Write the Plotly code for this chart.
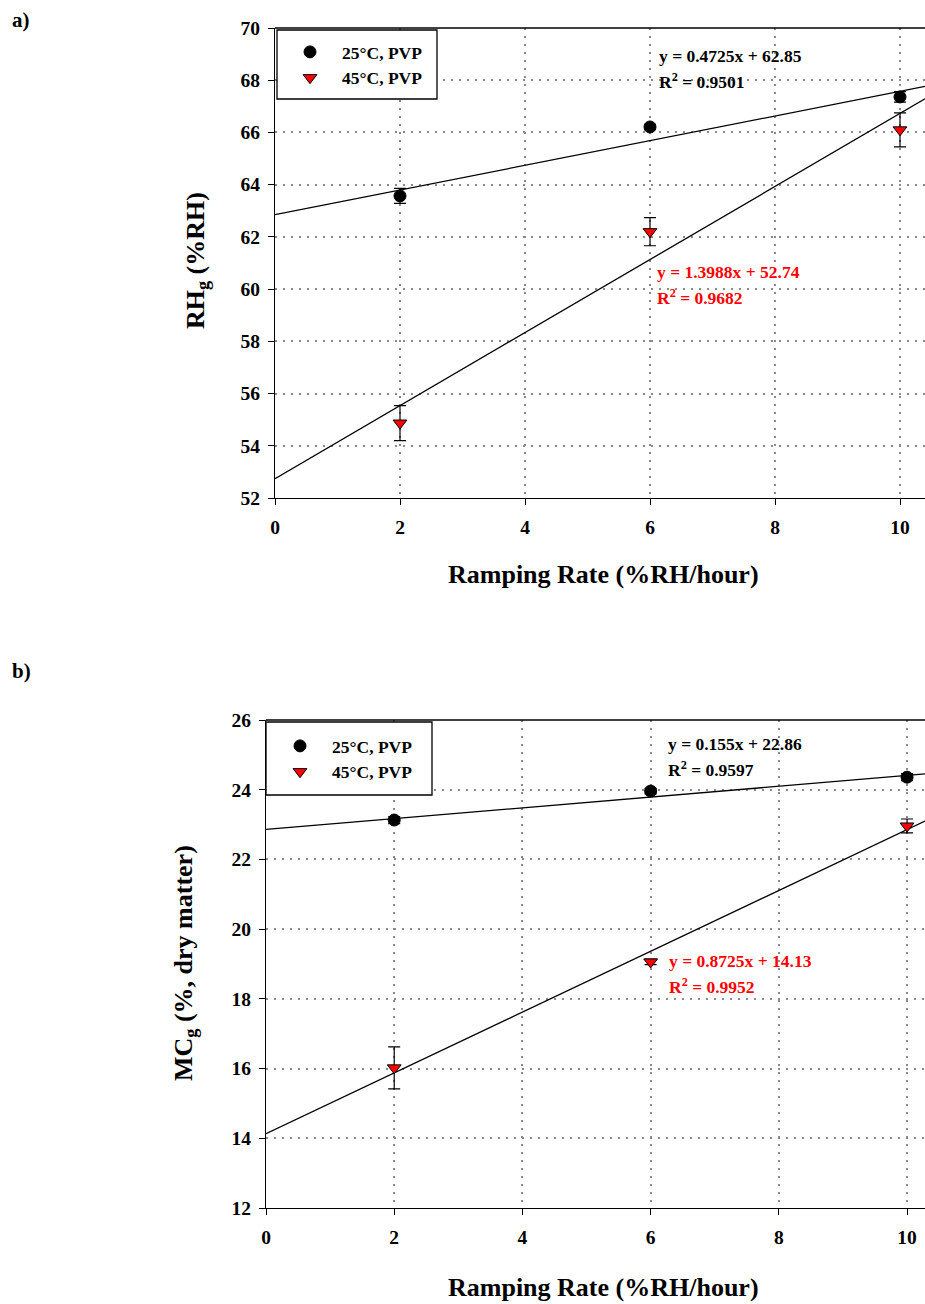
import plotly.graph_objects as go

# Ramping rates (%RH/hour)
rates = [2, 6, 10]

# Panel a) glass-transition RH (%RH)
rh_25 = [63.57, 66.21, 67.36]
rh_25_err = [0.29, 0.1, 0.2]
rh_45 = [54.87, 62.2, 66.1]
rh_45_err = [0.67, 0.54, 0.65]

# Panel b) glass-transition moisture content (%, dry matter)
mc_25 = [23.13, 23.96, 24.36]
mc_25_err = [0.1, 0.08, 0.1]
mc_45 = [16.02, 19.06, 22.96]
mc_45_err = [0.6, 0.08, 0.2]

# Linear fits (slope, intercept, R^2)
fit_rh_25 = (0.4725, 62.85, 0.9501)
fit_rh_45 = (1.3988, 52.74, 0.9682)
fit_mc_25 = (0.155, 22.86, 0.9597)
fit_mc_45 = (0.8725, 14.13, 0.9952)

W, H = 925, 1304
FONT = "Liberation Serif"
RED = "#ff0000"


def px_x(p):
    return p / W


def px_y(p):
    return 1 - p / H


fig = go.Figure()

xr_a = [0, 10.4]
xr_b = [0, 10.28]


def add_fit(fit, xr, xa, ya):
    m, b, _ = fit
    fig.add_trace(go.Scatter(
        x=[xr[0], xr[1]], y=[m * xr[0] + b, m * xr[1] + b],
        mode="lines", line=dict(color="black", width=1.3),
        showlegend=False, xaxis=xa, yaxis=ya, hoverinfo="skip"))


def add_points(y, err, name, symbol, color, xa, ya, legend):
    fig.add_trace(go.Scatter(
        x=rates, y=y, mode="markers", name=name,
        marker=dict(symbol=symbol, size=12, color=color,
                    line=dict(color="black", width=1)),
        error_y=dict(type="data", array=err, visible=True,
                     color="black", thickness=1.2, width=6),
        xaxis=xa, yaxis=ya, legend=legend))


# panel a
add_fit(fit_rh_25, xr_a, "x", "y")
add_fit(fit_rh_45, xr_a, "x", "y")
add_points(rh_25, rh_25_err, "25°C, PVP", "circle", "black", "x", "y", "legend")
add_points(rh_45, rh_45_err, "45°C, PVP", "triangle-down", RED, "x", "y", "legend")

# panel b
add_fit(fit_mc_25, xr_b, "x2", "y2")
add_fit(fit_mc_45, xr_b, "x2", "y2")
add_points(mc_25, mc_25_err, "25°C, PVP", "circle", "black", "x2", "y2", "legend2")
add_points(mc_45, mc_45_err, "45°C, PVP", "triangle-down", RED, "x2", "y2", "legend2")

tickfont = dict(family=FONT, size=19.5, color="black", weight="bold")
grid = dict(showgrid=True, gridcolor="#8a8a8a", gridwidth=2, griddash="2px,6px",
            showline=True, linecolor="black", linewidth=1.3,
            ticks="outside", ticklen=6, tickcolor="black", tickwidth=1.3,
            tickfont=tickfont, zeroline=False, automargin=False)

legend_style = dict(xanchor="left", yanchor="top", bgcolor="rgba(0,0,0,0)",
                    borderwidth=0, itemwidth=54, tracegroupgap=0,
                    font=dict(family=FONT, size=17.5, color="black", weight="bold"))

fig.update_layout(
    width=W, height=H,
    margin=dict(l=0, r=0, t=0, b=0, autoexpand=False),
    paper_bgcolor="white", plot_bgcolor="white",
    font=dict(family=FONT, color="black"),
    xaxis=dict(domain=[px_x(275), 1], range=xr_a, dtick=2, tick0=0,
               anchor="y", ticklabelstandoff=5, **grid),
    yaxis=dict(domain=[px_y(498), px_y(28)], range=[52, 70], dtick=2, tick0=52,
               anchor="x", ticklabelstandoff=4, **grid),
    xaxis2=dict(domain=[px_x(266), 1], range=xr_b, dtick=2, tick0=0,
                anchor="y2", ticklabelstandoff=5, **grid),
    yaxis2=dict(domain=[px_y(1208), px_y(720)], range=[12, 26], dtick=2, tick0=12,
                anchor="x2", ticklabelstandoff=4, **grid),
    legend=dict(x=px_x(278), y=px_y(34), **legend_style),
    legend2=dict(x=px_x(268), y=px_y(728), **legend_style),
)

# top frame lines of both panels
for x0, y0 in ((275, 28), (266, 720)):
    fig.add_shape(type="line", xref="paper", yref="paper",
                  x0=px_x(x0), x1=1, y0=px_y(y0), y1=px_y(y0),
                  line=dict(color="black", width=1.3))

# legend frames
for x0, y0, x1, y1 in ((277, 30, 437, 99), (266, 722, 432, 795)):
    fig.add_shape(type="rect", xref="paper", yref="paper", layer="above",
                  x0=px_x(x0), x1=px_x(x1), y0=px_y(y0), y1=px_y(y1),
                  fillcolor="white", line=dict(color="black", width=1.3))

ann = []


def text(xp, yp, s, size, color="black", angle=0, xanchor="left"):
    ann.append(dict(x=px_x(xp), y=px_y(yp), xref="paper", yref="paper",
                    text=s, showarrow=False, xanchor=xanchor, yanchor="middle",
                    textangle=angle,
                    font=dict(family=FONT, size=size, color=color, weight="bold")))


def eq_lines(fit, xp, yp, color):
    m, b, r2 = fit
    text(xp, yp, f"y = {m:g}x + {b:.2f}", 17.5, color)
    text(xp, yp + 25, f"R<sup>2</sup> = {r2:.4f}", 17.5, color)


eq_lines(fit_rh_25, 657, 56, "black")
eq_lines(fit_rh_45, 655, 272, RED)
eq_lines(fit_mc_25, 666, 744, "black")
eq_lines(fit_mc_45, 667, 961, RED)

text(10, 20, "a)", 21)
text(10, 671, "b)", 21)
text(603, 575, "Ramping Rate (%RH/hour)", 26, xanchor="center")
text(603, 1287, "Ramping Rate (%RH/hour)", 26, xanchor="center")
text(197, 261, "RH<sub>g</sub> (%RH)", 26, angle=-90, xanchor="center")
text(185, 963, "MC<sub>g</sub> (%, dry matter)", 26, angle=-90, xanchor="center")

fig.update_layout(annotations=ann)

fig.write_html("out.html")
